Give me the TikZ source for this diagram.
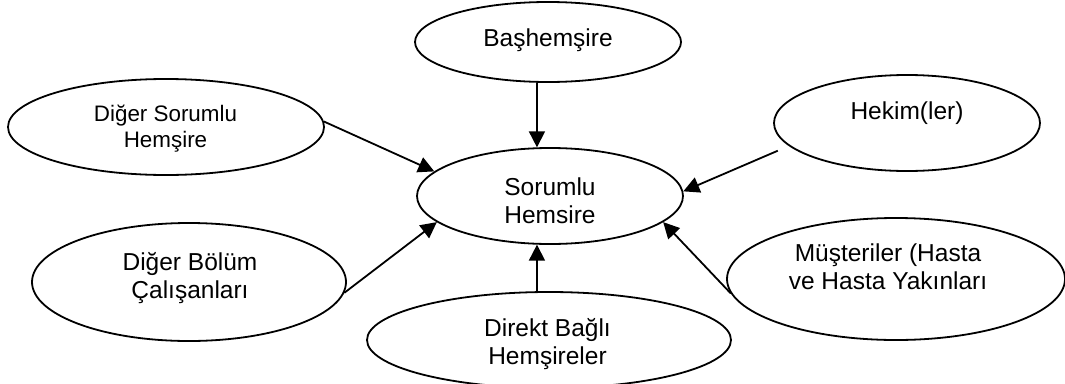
\documentclass[tikz,border=0pt]{standalone}
\usepackage{fontspec}
\setmainfont{Liberation Sans}
\usetikzlibrary{shapes.geometric,arrows.meta}
\begin{document}
\begin{tikzpicture}[x=1pt,y=-1pt,
  ell/.style={draw, ellipse, line width=1.8pt, inner sep=0pt},
  lbl/.style={font=\fontsize{24.5}{28}\selectfont, align=center, inner sep=0pt},
  lblsmall/.style={font=\fontsize{22.4}{26}\selectfont, align=center, inner sep=0pt},
  arr/.style={line width=1.8pt, -{Triangle[length=16pt,width=16pt]}}]
\useasboundingbox (0,0) rectangle (1065,383);
\clip (0,0) rectangle (1065,383);
% ellipses
\node[ell, minimum width=266pt, minimum height=80pt]  (bas) at (548,42) {};
\node[ell, minimum width=316pt, minimum height=96pt]  (dsh) at (166,127) {};
\node[ell, minimum width=266pt, minimum height=96pt]  (hek) at (907,123) {};
\node[ell, minimum width=266pt, minimum height=96pt]  (sor) at (550,196) {};
\node[ell, minimum width=314pt, minimum height=118pt] (dbc) at (189,282) {};
\node[ell, minimum width=338pt, minimum height=122pt] (mus) at (896,279) {};
\node[ell, minimum width=364pt, minimum height=96pt]  (dbh) at (549,340) {};
% labels
\node[lbl] (bas-t) at (548,40) {Başhemşire};
\node[lblsmall] (dsh-t) at (165.5,129) {Diğer Sorumlu\\Hemşire};
\node[lbl] (hek-t) at (907,113.5) {Hekim(ler)};
\node[lbl] (sor-t) at (550,201) {Sorumlu\\Hemsire};
\node[lbl] (dbc-t) at (190,278) {Diğer Bölüm\\Çalışanları};
\node[lbl] (mus-t) at (888,267) {Müşteriler (Hasta\\ve Hasta Yakınları};
\node[lbl] (dbh-t) at (547.5,344) {Direkt Bağlı\\Hemşireler};
% connectors
\draw[arr] (bas.south -| sor.105) -- (sor.105);
\draw[arr] (dsh.2) -- (sor.168);
\draw[arr, shorten <=12pt] (hek.191) -- (sor.2);
\draw[arr] (dbc.-4) -- (sor.193);
\draw[arr] (mus.185) -- (sor.-13.5);
\draw[arr] (dbh.north -| sor.-105) -- (sor.-105);
\end{tikzpicture}
\end{document}
